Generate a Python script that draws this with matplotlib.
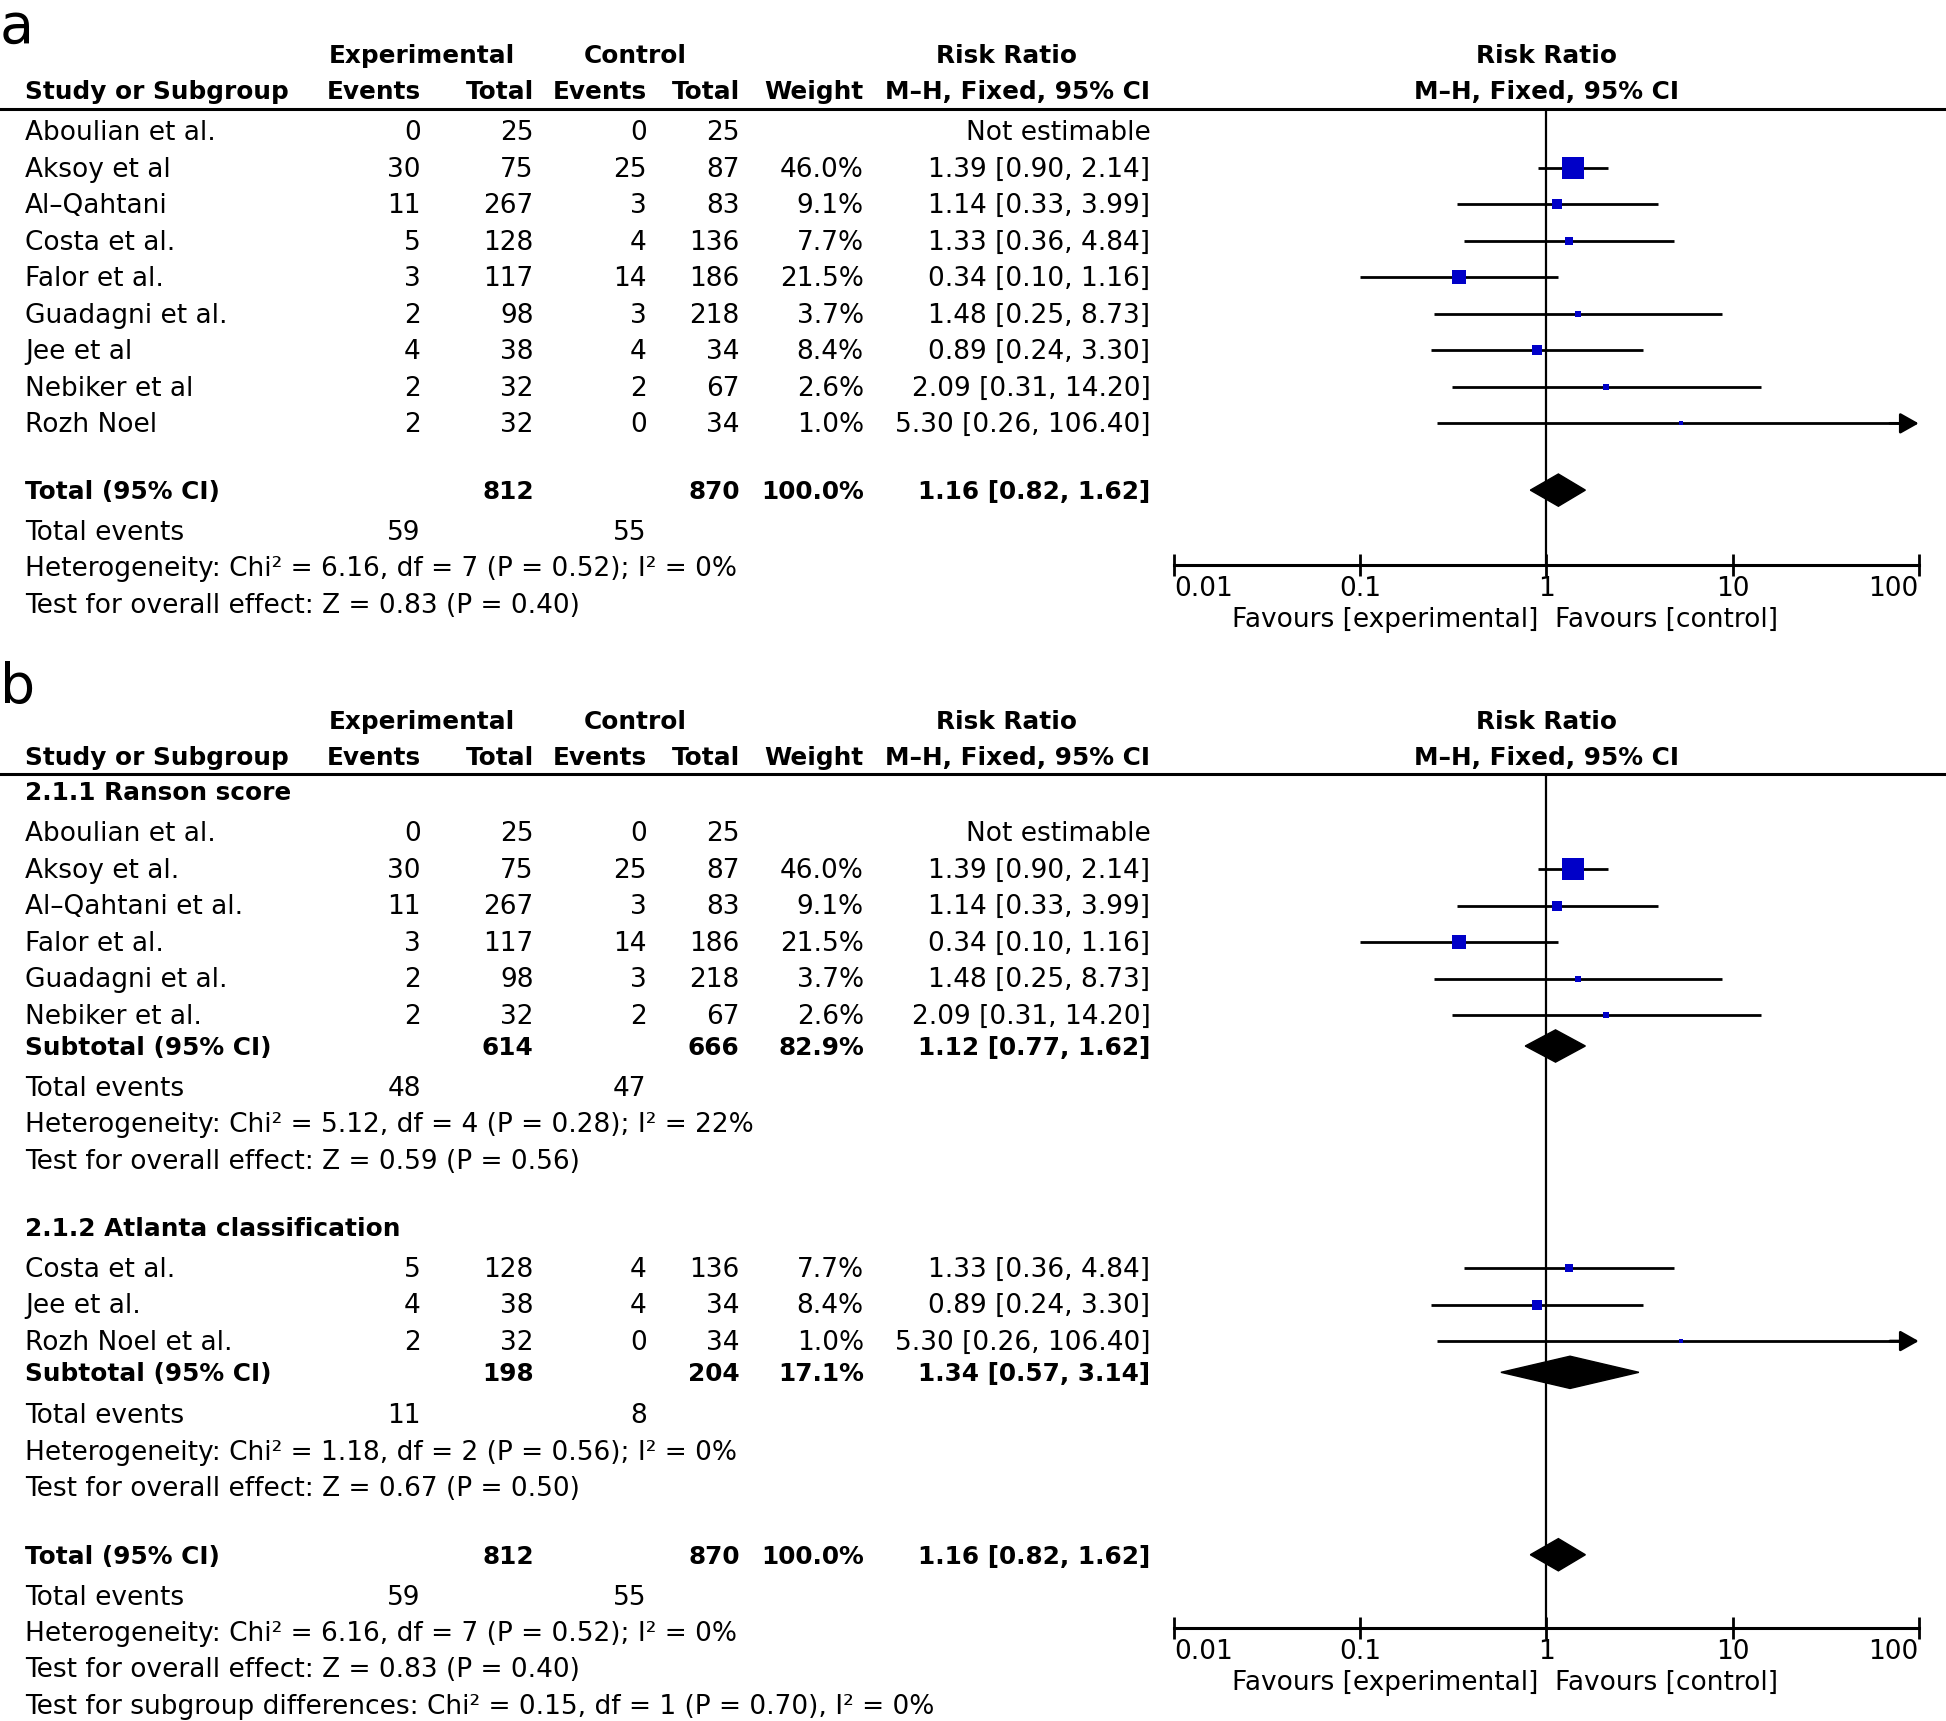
import numpy as np
import matplotlib
matplotlib.use("Agg")
import matplotlib.pyplot as plt
from matplotlib.patches import Polygon

plt.rcParams['font.family'] = ['DejaVu Sans']
FS = 19.0
FSB = 17.8

# ---------------- data ----------------
# Panel a
names_a = ["Aboulian et al.", "Aksoy et al", "Al–Qahtani", "Costa et al.", "Falor et al.",
           "Guadagni et al.", "Jee et al", "Nebiker et al", "Rozh Noel"]
exp_ev_a = [0, 30, 11, 5, 3, 2, 4, 2, 2]
exp_tot_a = [25, 75, 267, 128, 117, 98, 38, 32, 32]
ctl_ev_a = [0, 25, 3, 4, 14, 3, 4, 2, 0]
ctl_tot_a = [25, 87, 83, 136, 186, 218, 34, 67, 34]
weight_a = [None, 46.0, 9.1, 7.7, 21.5, 3.7, 8.4, 2.6, 1.0]
rr_a = [None, 1.39, 1.14, 1.33, 0.34, 1.48, 0.89, 2.09, 5.30]
lo_a = [None, 0.90, 0.33, 0.36, 0.10, 0.25, 0.24, 0.31, 0.26]
hi_a = [None, 2.14, 3.99, 4.84, 1.16, 8.73, 3.30, 14.20, 106.40]

# Panel b, subgroup 1
names_b1 = ["Aboulian et al.", "Aksoy et al.", "Al–Qahtani et al.", "Falor et al.",
            "Guadagni et al.", "Nebiker et al."]
exp_ev_b1 = [0, 30, 11, 3, 2, 2]
exp_tot_b1 = [25, 75, 267, 117, 98, 32]
ctl_ev_b1 = [0, 25, 3, 14, 3, 2]
ctl_tot_b1 = [25, 87, 83, 186, 218, 67]
weight_b1 = [None, 46.0, 9.1, 21.5, 3.7, 2.6]
rr_b1 = [None, 1.39, 1.14, 0.34, 1.48, 2.09]
lo_b1 = [None, 0.90, 0.33, 0.10, 0.25, 0.31]
hi_b1 = [None, 2.14, 3.99, 1.16, 8.73, 14.20]

# Panel b, subgroup 2
names_b2 = ["Costa et al.", "Jee et al.", "Rozh Noel et al."]
exp_ev_b2 = [5, 4, 2]
exp_tot_b2 = [128, 38, 32]
ctl_ev_b2 = [4, 4, 0]
ctl_tot_b2 = [136, 34, 34]
weight_b2 = [7.7, 8.4, 1.0]
rr_b2 = [1.33, 0.89, 5.30]
lo_b2 = [0.36, 0.24, 0.26]
hi_b2 = [4.84, 3.30, 106.40]

# Pooled estimates
total = dict(et=812, ct=870, w=100.0, rr=1.16, lo=0.82, hi=1.62, ee=59, ce=55)
sub1 = dict(et=614, ct=666, w=82.9, rr=1.12, lo=0.77, hi=1.62, ee=48, ce=47)
sub2 = dict(et=198, ct=204, w=17.1, rr=1.34, lo=0.57, hi=3.14, ee=11, ce=8)

het_total = "Heterogeneity: Chi² = 6.16, df = 7 (P = 0.52); I² = 0%"
eff_total = "Test for overall effect: Z = 0.83 (P = 0.40)"
het_sub1 = "Heterogeneity: Chi² = 5.12, df = 4 (P = 0.28); I² = 22%"
eff_sub1 = "Test for overall effect: Z = 0.59 (P = 0.56)"
het_sub2 = "Heterogeneity: Chi² = 1.18, df = 2 (P = 0.56); I² = 0%"
eff_sub2 = "Test for overall effect: Z = 0.67 (P = 0.50)"
subgroup_diff = "Test for subgroup differences: Chi² = 0.15, df = 1 (P = 0.70), I² = 0%"

tick_vals = [0.01, 0.1, 1, 10, 100]
tick_labels = ["0.01", "0.1", "1", "10", "100"]

# ---------------- layout (reference pixel grid 1568 x 1387) ----------------
W, H = 1568, 1387
X_NAME, X_EE, X_ET, X_CE, X_CT, X_W, X_CI = 20, 339, 430, 521, 596, 696, 927
X_F0, X_F1 = 946, 1546
STEP = 29.4
DY = 1.5  # text vertical nudge
BLUE = "#0000c8"

fig = plt.figure(figsize=(19.46, 17.21), dpi=100)
bg = fig.add_axes([0, 0, 1, 1])
bg.set_xlim(0, W)
bg.set_ylim(H, 0)
bg.axis("off")


def txt(x, y, s, ha="left", bold=False):
    bg.text(x, y + DY, s, ha=ha, va="center", fontsize=FSB if bold else FS,
            fontweight="bold" if bold else "normal")


def header(y1, y2, yline):
    txt(340, y1, "Experimental", "center", True)
    txt(512, y1, "Control", "center", True)
    txt(811, y1, "Risk Ratio", "center", True)
    txt(1246, y1, "Risk Ratio", "center", True)
    txt(X_NAME, y2, "Study or Subgroup", bold=True)
    txt(X_EE, y2, "Events", "right", True)
    txt(X_ET, y2, "Total", "right", True)
    txt(X_CE, y2, "Events", "right", True)
    txt(X_CT, y2, "Total", "right", True)
    txt(X_W, y2, "Weight", "right", True)
    txt(X_CI, y2, "M–H, Fixed, 95% CI", "right", True)
    txt(1246, y2, "M–H, Fixed, 95% CI", "center", True)
    bg.plot([0, W], [yline, yline], color="black", lw=2.2)


def study_rows(y0, names, ee, et, ce, ct, w, rr, lo, hi):
    ys = []
    for i in range(len(names)):
        y = y0 + i * STEP
        ys.append(y)
        txt(X_NAME, y, names[i])
        txt(X_EE, y, str(ee[i]), "right")
        txt(X_ET, y, str(et[i]), "right")
        txt(X_CE, y, str(ce[i]), "right")
        txt(X_CT, y, str(ct[i]), "right")
        if rr[i] is None:
            txt(X_CI, y, "Not estimable", "right")
        else:
            txt(X_W, y, f"{w[i]:.1f}%", "right")
            txt(X_CI, y, f"{rr[i]:.2f} [{lo[i]:.2f}, {hi[i]:.2f}]", "right")
    return ys


def pooled_row(y, label, d):
    txt(X_NAME, y, label, bold=True)
    txt(X_ET, y, str(d["et"]), "right", True)
    txt(X_CT, y, str(d["ct"]), "right", True)
    txt(X_W, y, f"{d['w']:.1f}%", "right", True)
    txt(X_CI, y, f"{d['rr']:.2f} [{d['lo']:.2f}, {d['hi']:.2f}]", "right", True)


def stats_rows(y, d, het, eff):
    txt(X_NAME, y, "Total events")
    txt(X_EE, y, str(d["ee"]), "right")
    txt(X_CE, y, str(d["ce"]), "right")
    txt(X_NAME, y + STEP, het)
    txt(X_NAME, y + 2 * STEP, eff)


def forest_axes(ytop, ybot):
    ax = fig.add_axes([X_F0 / W, 1 - ybot / H, (X_F1 - X_F0) / W, (ybot - ytop) / H])
    ax.set_xscale("log")
    ax.set_xlim(tick_vals[0], tick_vals[-1])
    ax.set_ylim(ybot, ytop)
    ax.patch.set_alpha(0)
    for s in ["top", "left", "right"]:
        ax.spines[s].set_visible(False)
    ax.spines["bottom"].set_linewidth(2.2)
    ax.set_yticks([])
    ax.set_xticks(tick_vals)
    ax.set_xticklabels([])
    ax.minorticks_off()
    ax.tick_params(axis="x", direction="inout", length=16, width=2.0)
    ax.axvline(1, color="black", lw=1.6, zorder=1)
    for v, lab, ha in zip(tick_vals, tick_labels, ["left", "center", "center", "center", "right"]):
        ax.text(v, ybot + 18 + DY, lab, ha=ha, va="center", fontsize=FS, clip_on=False)
    ax.annotate("Favours [experimental]", xy=(1, ybot + 43 + DY), xytext=(-6, 0),
                textcoords="offset points", ha="right", va="center", fontsize=FS,
                annotation_clip=False)
    ax.annotate("Favours [control]", xy=(1, ybot + 43 + DY), xytext=(6, 0),
                textcoords="offset points", ha="left", va="center", fontsize=FS,
                annotation_clip=False)
    return ax


def draw_studies(ax, ys, w, rr, lo, hi):
    for y, wi, r, l, h in zip(ys, w, rr, lo, hi):
        if r is None:
            continue
        if h > tick_vals[-1]:
            ax.plot([l, tick_vals[-1] * 0.9], [y, y], color="black", lw=2.0, zorder=2,
                    solid_capstyle="butt")
            ax.annotate("", xy=(tick_vals[-1], y), xytext=(tick_vals[-1] * 0.7, y),
                        arrowprops=dict(arrowstyle="-|>,head_length=0.8,head_width=0.45",
                                        color="black", lw=2.0, mutation_scale=14,
                                        shrinkA=0, shrinkB=0),
                        annotation_clip=False)
        else:
            ax.plot([l, h], [y, y], color="black", lw=2.0, zorder=2, solid_capstyle="butt")
        ax.scatter([r], [y], s=5.0 * wi, marker="s", color=BLUE, zorder=3, linewidths=0)


def draw_diamond(ax, y, d, hh=13):
    poly = Polygon([(d["lo"], y), (d["rr"], y - hh), (d["hi"], y), (d["rr"], y + hh)],
                   closed=True, facecolor="black", edgecolor="black", zorder=3)
    ax.add_patch(poly)


# ---------------- panel a ----------------
bg.text(0, 0.5, "a", ha="left", va="top", fontsize=40)
header(44, 73, 88)
ys_a = study_rows(106, names_a, exp_ev_a, exp_tot_a, ctl_ev_a, ctl_tot_a,
                  weight_a, rr_a, lo_a, hi_a)
pooled_row(395, "Total (95% CI)", total)
stats_rows(428, total, het_total, eff_total)
ax_a = forest_axes(88, 455)
draw_studies(ax_a, ys_a, weight_a, rr_a, lo_a, hi_a)
draw_diamond(ax_a, 395, total)

# ---------------- panel b ----------------
bg.text(0, 533, "b", ha="left", va="top", fontsize=40)
header(580, 609, 624)
txt(X_NAME, 638, "2.1.1 Ranson score", bold=True)
ys_b1 = study_rows(671, names_b1, exp_ev_b1, exp_tot_b1, ctl_ev_b1, ctl_tot_b1,
                   weight_b1, rr_b1, lo_b1, hi_b1)
pooled_row(843, "Subtotal (95% CI)", sub1)
stats_rows(876, sub1, het_sub1, eff_sub1)

txt(X_NAME, 989, "2.1.2 Atlanta classification", bold=True)
ys_b2 = study_rows(1022, names_b2, exp_ev_b2, exp_tot_b2, ctl_ev_b2, ctl_tot_b2,
                   weight_b2, rr_b2, lo_b2, hi_b2)
pooled_row(1106, "Subtotal (95% CI)", sub2)
stats_rows(1140, sub2, het_sub2, eff_sub2)

pooled_row(1253, "Total (95% CI)", total)
stats_rows(1286, total, het_total, eff_total)
txt(X_NAME, 1286 + 3 * STEP, subgroup_diff)

ax_b = forest_axes(624, 1312)
draw_studies(ax_b, ys_b1, weight_b1, rr_b1, lo_b1, hi_b1)
draw_studies(ax_b, ys_b2, weight_b2, rr_b2, lo_b2, hi_b2)
draw_diamond(ax_b, 843, sub1)
draw_diamond(ax_b, 1106, sub2)
draw_diamond(ax_b, 1253, total)

fig.savefig("out.png", dpi=100)
